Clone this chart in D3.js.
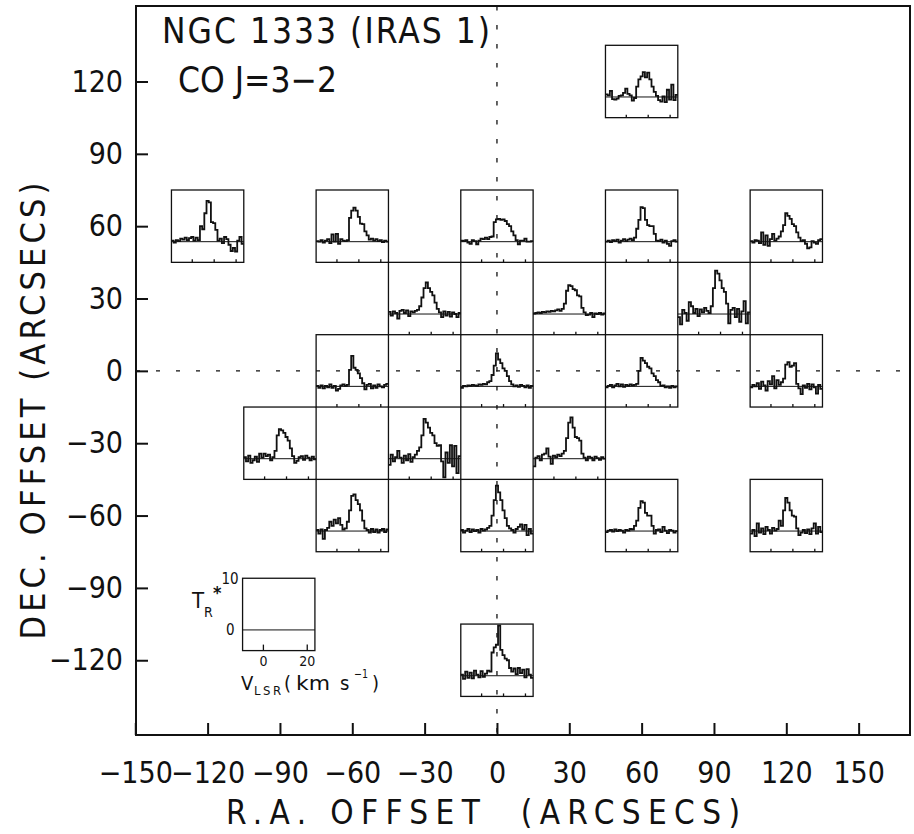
<!DOCTYPE html>
<html lang="en">
<head>
<meta charset="UTF-8">
<script src="https://d3js.org/d3.v7.min.js"></script>
<style>
  body { margin: 0; background: #fff; }
  svg { display: block; }
  text { font-family: "Liberation Sans Narrow", "DejaVu Sans Condensed", sans-serif; fill: #111; }
</style>
</head>
<body>
<div id="chart"></div>
<script>
// channel velocities, km/s (one value per channel)
const velocities = [-9,-8,-7,-6,-5,-4,-3,-2,-1,0,1,2,3,4,5,6,7,8,9,10,11,12,13,14,15,16,17,18,19,20,21,22,23];

// map positions (arcsec offsets)
const pointRA  = [60, -120, -60, 0, 60, 120, -30, 30, 90, -60, 0, 60, 120, -90, -30, 30, -60, 0, 60, 120, 0];
const pointDec = [120, 60, 60, 60, 60, 60, 30, 30, 30, 0, 0, 0, 0, -30, -30, -30, -60, -60, -60, -60, -120];

// T_R* (K) per channel, same order as the positions
const s_60_120   = [0.5,0.3,1.2,-0.4,-0.5,-0.3,0.2,0.3,0.8,1.6,0.6,0.3,-0.7,-0.2,2.0,3.4,4.0,4.8,3.8,4.7,3.4,2.0,1.0,0.2,-0.6,-0.9,0.1,-1.0,1.4,-0.5,2.4,-0.6,0.4];
const s_m120_60  = [0.2,-0.2,0.3,0.1,0.6,0.4,0.8,0.3,0.7,0.9,0.2,0.8,0.3,3.0,2.4,5.5,7.9,7.6,3.8,3.6,2.3,0.2,0.6,-0.3,0.9,0.5,-0.6,-1.8,-1.2,-1.9,0.2,0.9,-0.4];
const s_m60_60   = [0.1,0,0.3,-0.2,0.2,0.5,-0.3,1.4,0,1.5,-0.4,0.5,0.2,0.1,0.3,4.6,6.0,6.6,6.0,4.8,3.5,3.4,2.0,1.2,0.4,0.6,0.2,0.5,0.1,0.3,-0.1,0.2,0];
const s_0_60     = [0.2,0.1,0.3,-0.2,-0.4,0.3,0.1,-0.5,0.2,0.6,0.5,0.8,0.5,0.9,1.0,3.8,4.3,4.4,4.2,4.3,4.0,3.4,3.0,2.0,1.2,0.3,-0.5,0.2,0.2,0.6,0.0,0,0.1];
const s_60_60    = [0,0.2,-0.1,0.3,0.1,0.4,-0.2,0.2,0.5,0.1,0.4,0.6,0.3,0.8,2.5,4.2,6.7,6.5,4.2,3.2,3.0,3.0,1.5,0.2,0.1,0.4,-0.2,0.2,-0.4,-0.8,0.1,0.3,0];
const s_120_60   = [0.1,-0.2,0.3,0.2,-0.3,1.8,-0.6,1.2,-0.8,0.5,1.5,0.2,0.6,1.0,2.0,3.2,5.5,5.0,4.4,3.4,3.0,1.8,0.8,0.1,0.3,-0.4,-1.3,-1.1,0.1,-0.2,-0.4,0.3,0.5];
const s_m30_30   = [0.4,-0.3,0.5,0.2,-0.9,0.6,0.8,0.2,0.7,-0.4,0.5,0.3,0.6,0.8,1.5,3.2,5.0,6.1,5.0,4.3,3.6,2.2,1.0,0.3,-0.6,0.5,-0.3,0.4,-0.5,0.3,0,-0.6,0.2];
const s_30_30    = [0.1,0.2,0.3,0.2,0.4,0.3,0.5,0.4,0.6,0.5,0.7,0.9,0.6,1.0,2.0,4.5,5.6,5.4,4.8,4.6,3.6,3.4,1.2,0.3,-0.2,-0.1,0.2,-0.6,0.1,0,0.2,-0.1,0.1];
const s_90_30    = [-0.6,-2.0,0.8,0.2,-1.3,2.3,1.5,0.2,1.0,-0.4,0.9,0.3,1.2,0.6,0.2,1.5,5.0,8.4,7.8,6.5,5.0,4.3,2.0,-1.8,0.8,1.2,-0.6,1.0,-1.5,0.5,2.5,-1.8,0.3];
const s_m60_0    = [0.1,-0.3,0.2,-0.4,0.1,-0.2,0.4,-0.3,0.1,-0.8,-0.5,0.2,0.4,0.1,0.3,3.2,5.9,3.6,3.2,2.5,1.6,0.6,-0.6,0.3,0.5,-0.4,0.2,-0.3,0.4,0,-0.2,0.3,0.5];
const s_0_0      = [-0.3,0.1,0,0.2,0.1,0.3,0.2,0.1,0.4,0.3,0.5,0.4,0.8,1.0,2.2,4.0,6.4,5.2,4.5,3.5,3.0,2.0,1.0,0.4,0,0.2,-0.1,0.3,0.1,-0.2,0.2,-0.3,0.1];
const s_60_0     = [-0.2,0.1,0.3,-0.2,0.2,0.5,0,0.4,-0.1,0.3,0.1,0.4,0.2,0.3,0.5,3.0,5.5,5.0,4.5,3.8,3.5,2.5,2.0,1.2,0.8,0.1,0.2,-0.2,0,-0.3,0.1,-0.2,0];
const s_120_0    = [-0.2,0.3,0,0.6,-0.5,0.9,0.2,-0.8,1.0,0.4,2.0,-0.4,1.2,0.3,0.8,1.5,4.2,4.7,3.8,4.0,4.5,0.5,-0.4,-1.5,0.2,-0.3,0.5,-0.6,0.4,-0.2,-1.4,0.3,-0.5];
const s_m90_m30  = [0.3,-0.5,0.6,-0.8,-0.3,0.4,-0.6,1.0,0.2,1.0,0.5,0.8,-0.3,0.3,1.5,4.5,5.7,5.5,5.0,4.2,3.5,2.0,0.5,-0.8,-0.4,0.3,0.5,-0.2,0.6,0.2,-0.3,0.4,-0.1];
const s_m30_m30  = [-1.2,0.8,-0.5,0.3,1.5,0.2,-0.8,0.6,-0.3,0.9,-0.6,0.3,0.8,1.5,2.2,4.5,7.7,7.0,6.0,5.0,4.5,3.0,2.5,2.6,-0.5,-3.6,1.2,-0.8,2.6,-1.5,2.5,-2.8,0.5];
const s_30_m30   = [-1.5,0.2,0.5,-0.3,0.8,1.0,2.0,0.4,-1.0,0.6,0.3,0.8,0.5,1.0,1.5,4.0,7.0,8.0,6.0,4.2,4.0,3.5,1.0,0.2,-0.3,0.4,0.2,-0.3,0.4,0.1,-0.2,0.3,0];
const s_m60_m60  = [0.2,-0.5,0.3,-1.5,0.2,0.6,1.8,1.0,2.2,1.5,2.5,1.2,0.3,0.5,1.8,4.0,6.8,7.1,6.0,5.2,4.0,2.0,0.5,0.2,-0.3,0.4,-0.2,0.3,-0.3,0.2,0.4,-0.2,0.3];
const s_0_m60    = [0.2,-0.3,0.1,0.4,-0.2,0.3,0,0.2,-0.3,0.4,0.1,0.3,0.6,1.0,3.0,6.0,8.8,7.5,6.0,4.0,2.5,1.0,0.5,0.2,-0.3,0.4,0.8,1.3,0.3,1.2,-0.8,0.4,-0.5];
const s_60_m60   = [-0.2,0.1,0.2,-0.1,0.3,0,0.2,0.1,-0.3,0.2,0.1,0.4,0.3,1.0,2.0,4.5,5.8,5.5,3.5,3.0,3.0,1.0,-0.5,0.2,0.3,-0.2,0.8,0.1,-0.4,0.2,0.1,-0.3,0];
const s_120_m60  = [-0.5,0.2,-1.0,1.5,-0.3,0.5,-0.6,0.8,0.2,-0.5,0.6,0.1,0.4,2.0,1.0,4.0,6.4,5.5,4.0,3.0,2.8,0.5,-0.8,-0.3,0.2,-0.4,0.3,-0.6,0.5,1.5,-0.5,0.8,-0.2];
const s_0_m120   = [0.2,-0.6,0.8,-0.4,0.6,-0.5,1.0,0.2,-0.3,0.9,-0.2,0.4,1.0,0.8,4.5,5.5,6.0,9.7,5.0,4.0,3.3,3.0,1.5,0.8,1.4,0.3,1.5,0.5,1.2,-0.3,1.3,0.2,-0.4];

const spectra = [s_60_120, s_m120_60, s_m60_60, s_0_60, s_60_60, s_120_60, s_m30_30, s_30_30, s_90_30,
  s_m60_0, s_0_0, s_60_0, s_120_0, s_m90_m30, s_m30_m30, s_30_m30, s_m60_m60, s_0_m60, s_60_m60, s_120_m60, s_0_m120];

const xTicks = [-150, -120, -90, -60, -30, 0, 30, 60, 90, 120, 150];
const yTicks = [-120, -90, -60, -30, 0, 30, 60, 90, 120];
const boxTicks = [0, 10, 20];      // km/s ticks under each spectrum
const legendTicks = [0, 20];

const W = 914, H = 834;
const half = 15;                   // each spectrum box spans 30" x 30"

const svg = d3.select("#chart").append("svg")
  .attr("width", W).attr("height", H);

const x = d3.scaleLinear().domain([-149.7, 171.3]).range([136, 910]);
const y = d3.scaleLinear().domain([-151, 151.3]).range([735, 6]);

const fmt = d => (d < 0 ? "\u2212" : "") + Math.abs(d);

// dashed zero lines
svg.append("line")
  .attr("x1", x(0)).attr("x2", x(0)).attr("y1", y.range()[1]).attr("y2", y.range()[0])
  .attr("stroke", "#111").attr("stroke-width", 1.3).attr("stroke-dasharray", "4.5,14.5");
svg.append("line")
  .attr("x1", x.range()[0]).attr("x2", x.range()[1]).attr("y1", y(0)).attr("y2", y(0))
  .attr("stroke", "#111").attr("stroke-width", 1.3).attr("stroke-dasharray", "4,16");

// axes
const xAxis = svg.append("g")
  .attr("transform", `translate(0,${y.range()[0]})`)
  .call(d3.axisBottom(x).tickValues(xTicks).tickFormat(fmt).tickSizeInner(-12).tickSizeOuter(0).tickPadding(27));
const yAxis = svg.append("g")
  .attr("transform", `translate(${x.range()[0]},0)`)
  .call(d3.axisLeft(y).tickValues(yTicks).tickFormat(fmt).tickSizeInner(-12).tickSizeOuter(0).tickPadding(13));
[xAxis, yAxis].forEach(g => {
  g.select(".domain").remove();
  g.selectAll(".tick line").attr("stroke", "#111").attr("stroke-width", 2);
  g.selectAll(".tick text").attr("font-size", 30).attr("fill", "#111")
    .style("font-family", '"Liberation Sans Narrow", "DejaVu Sans Condensed", sans-serif');
});

// frame
svg.append("rect")
  .attr("x", x.range()[0]).attr("y", y.range()[1])
  .attr("width", x.range()[1] - x.range()[0]).attr("height", y.range()[0] - y.range()[1])
  .attr("fill", "none").attr("stroke", "#111").attr("stroke-width", 2);

// spectra
function drawBox(g, ra, dec, values, ticks, tickLen) {
  const v = d3.scaleLinear().domain([-9.5, 23.5]).range([x(ra - half), x(ra + half)]);
  const t = d3.scaleLinear().domain([-4, 10]).range([y(dec - half), y(dec + half)]);
  g.append("rect")
    .attr("x", v.range()[0]).attr("y", t.range()[1])
    .attr("width", v.range()[1] - v.range()[0]).attr("height", t.range()[0] - t.range()[1])
    .attr("fill", "none").attr("stroke", "#111").attr("stroke-width", 1.3);
  g.append("line")
    .attr("x1", v.range()[0]).attr("x2", v.range()[1]).attr("y1", t(0)).attr("y2", t(0))
    .attr("stroke", "#111").attr("stroke-width", 1);
  g.selectAll(null).data(ticks).join("line")
    .attr("x1", d => v(d)).attr("x2", d => v(d))
    .attr("y1", t.range()[0]).attr("y2", t.range()[0] - tickLen)
    .attr("stroke", "#111").attr("stroke-width", 1.3);
  if (values) {
    const pts = values.map((val, i) => [velocities[i] - 0.5, val]);
    pts.push([velocities[velocities.length - 1] + 0.5, values[values.length - 1]]);
    const line = d3.line().x(d => v(d[0])).y(d => t(Math.max(-4, Math.min(10, d[1])))).curve(d3.curveStepAfter);
    g.append("path").attr("d", line(pts))
      .attr("fill", "none").attr("stroke", "#111").attr("stroke-width", 1.8).attr("stroke-linejoin", "miter");
  }
  return { v, t };
}

const boxes = svg.append("g");
spectra.forEach((s, i) => drawBox(boxes.append("g"), pointRA[i], pointDec[i], s, boxTicks, 3));

// scale box (legend)
const leg = drawBox(svg.append("g"), -90.5, -101, null, legendTicks, 6);
const lx0 = leg.v.range()[0];
svg.append("text").attr("x", lx0 - 4).attr("y", leg.t(10) + 6).attr("text-anchor", "end").attr("font-size", 15).text("10");
svg.append("text").attr("x", lx0 - 8).attr("y", leg.t(0) + 5).attr("text-anchor", "end").attr("font-size", 15).text("0");
svg.append("text").attr("x", 192).attr("y", 608).attr("font-size", 22).text("T");
svg.append("text").attr("x", 204).attr("y", 617).attr("font-size", 14).text("R");
svg.append("text").attr("x", 213).attr("y", 599).attr("font-size", 18).attr("font-weight", "bold").text("*");
legendTicks.forEach(d => {
  svg.append("text").attr("x", leg.v(d)).attr("y", 666).attr("text-anchor", "middle").attr("font-size", 14).text(d);
});
svg.append("text").attr("x", 241).attr("y", 690).attr("font-size", 20).text("V");
svg.append("text").attr("x", 254).attr("y", 695).attr("font-size", 13)
  .attr("textLength", 27).attr("lengthAdjust", "spacing").text("LSR");
svg.append("text").attr("x", 284).attr("y", 690).attr("font-size", 20).text("(");
svg.append("text").attr("x", 296).attr("y", 690).attr("font-size", 20)
  .attr("textLength", 34).attr("lengthAdjust", "spacingAndGlyphs").text("km");
svg.append("text").attr("x", 340).attr("y", 690).attr("font-size", 20).text("s");
svg.append("text").attr("x", 354).attr("y", 678).attr("font-size", 12)
  .attr("textLength", 14).attr("lengthAdjust", "spacingAndGlyphs").text("\u22121");
svg.append("text").attr("x", 372).attr("y", 690).attr("font-size", 20).text(")");

// titles
svg.append("text").attr("x", 162).attr("y", 43).attr("font-size", 35)
  .attr("textLength", 328).attr("lengthAdjust", "spacing").text("NGC 1333 (IRAS 1)");
svg.append("text").attr("x", 178).attr("y", 92).attr("font-size", 35)
  .attr("textLength", 159).attr("lengthAdjust", "spacing").text("CO J=3\u22122");

// axis titles
svg.append("text").attr("x", 483).attr("y", 824).attr("text-anchor", "middle").attr("font-size", 33)
  .attr("textLength", 514).attr("lengthAdjust", "spacing").style("white-space", "pre")
  .text("R.A. OFFSET  (ARCSECS)");
svg.append("text").attr("transform", "translate(45,411) rotate(-90)").attr("text-anchor", "middle")
  .attr("font-size", 34).attr("textLength", 457).attr("lengthAdjust", "spacing")
  .text("DEC. OFFSET (ARCSECS)");
</script>
</body>
</html>
